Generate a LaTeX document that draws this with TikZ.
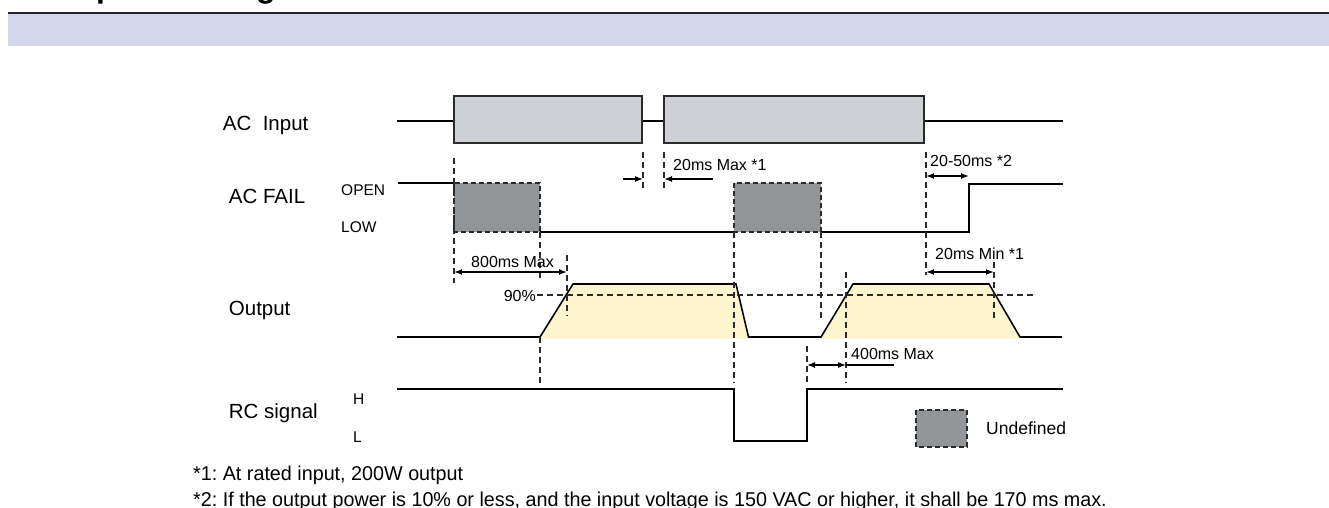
\documentclass[tikz,border=0pt]{standalone}
\usepackage{fontspec}
\setmainfont{Liberation Sans}
\newfontfamily\footfont[FakeStretch=0.987]{Liberation Sans}
\usetikzlibrary{arrows.meta}
\definecolor{band}{HTML}{D4D6EB}
\definecolor{acbox}{HTML}{CDD0D4}
\definecolor{undef}{HTML}{939699}
\definecolor{outfill}{HTML}{FFF6CF}
\definecolor{edge}{HTML}{2B2B2B}
\frenchspacing
\begin{document}
\begin{tikzpicture}[x=1pt,y=-1pt,
  sigline/.style={line width=1.6pt, black, line join=miter},
  guideline/.style={line width=1.2pt, edge, dash pattern=on 6pt off 4pt},
  dimarrow/.style={line width=1.3pt, {Latex[length=8pt,width=6pt]}-{Latex[length=8pt,width=6pt]}},
  onearrow/.style={line width=1.3pt, -{Latex[length=8pt,width=6pt]}},
  lbl/.style={font=\fontsize{20.5}{22}\selectfont, anchor=base west, inner sep=0pt},
  lvl/.style={font=\fontsize{15.5}{17}\selectfont, anchor=base west, inner sep=0pt},
  notetext/.style={font=\fontsize{16}{18}\selectfont, anchor=base west, inner sep=0pt},
  foottext/.style={font=\footfont\fontsize{20}{22}\selectfont, anchor=base west, inner sep=0pt},
  undefbox/.style={fill=undef, draw=edge, line width=1.2pt, dash pattern=on 5pt off 3pt},
  acboxs/.style={fill=acbox, draw=edge, line width=1.5pt}
]
\useasboundingbox (0,0) rectangle (1329,508);
\begin{scope}
\clip (0,0) rectangle (1329,508);
\node[font=\bfseries\fontsize{32}{34}\selectfont, anchor=base west, inner sep=0pt] (head) at (46,-2.8) {Sequence Diagram};
\end{scope}
% header band
\fill[band] (8,14) rectangle (1329,46.5);
\draw[line width=2pt, black!85] (8,13) -- (1329,13);

% row labels
\node[lbl] (lacin) at (222.7,131) {AC~~Input};
\node[lbl] (lacfail) at (228.7,203.3) {AC FAIL};
\node[lbl] (lout) at (228.7,315) {Output};
\node[lbl] (lrc) at (228.7,418) {RC signal};
\node[lvl] (lopen) at (341,195) {OPEN};
\node[lvl] (llow) at (341,232.3) {LOW};
\node[lvl] (lh) at (353,404.3) {H};
\node[lvl] (ll) at (353,442.7) {L};

% output fills
\fill[outfill] (540,338.5) -- (573,284) -- (736,284) -- (748.5,338.5) -- cycle;
\fill[outfill] (821,338.5) -- (853,284) -- (989,284) -- (1020,338.5) -- cycle;

% AC input
\coordinate (a0) at (397,121);
\coordinate (a1) at (454,121);
\coordinate (a2) at (642,121);
\coordinate (a3) at (664,121);
\coordinate (a4) at (924,121);
\coordinate (a5) at (1063,121);
\draw[sigline] (a0) -- (a1);
\draw[sigline] (a2) -- (a3);
\draw[sigline] (a4) -- (a5);
\draw[acboxs] (454,96) rectangle (642,143);
\draw[acboxs] (664,96) rectangle (924,143);

% AC FAIL
\draw[undefbox] (454,183) rectangle (540,232);
\draw[undefbox] (734,183) rectangle (821,232);
\coordinate (f0) at (398,183);
\coordinate (f1) at (454,183);
\coordinate (f2) at (540,232);
\coordinate (f3) at (734,232);
\coordinate (f4) at (821,232);
\coordinate (f5) at (969,232);
\coordinate (f6) at (969,184);
\coordinate (f7) at (1063,184);
\draw[sigline] (f0) -- (f1);
\draw[sigline] (f2) -- (f3);
\draw[sigline] (f4) -- (f5) -- (f6) -- (f7);

% Output
\coordinate (o0) at (397,337);
\coordinate (o1) at (540,337);
\coordinate (o2) at (573,284);
\coordinate (o3) at (736,284);
\coordinate (o4) at (748.5,337);
\coordinate (o5) at (821,337);
\coordinate (o6) at (853,284);
\coordinate (o7) at (989,284);
\coordinate (o8) at (1020,337);
\coordinate (o9) at (1062,337);
\draw[sigline] (o0) -- (o1) -- (o2) -- (o3) -- (o4) -- (o5) -- (o6) -- (o7) -- (o8) -- (o9);

% 90% level
\coordinate (n0) at (537,295);
\coordinate (n1) at (1036,295);
\draw[guideline] (n0) -- (n1);
\node[notetext, anchor=base east] (l90) at (536,301.5) {90\%};

% RC signal
\coordinate (r0) at (397,389);
\coordinate (r1) at (734,389);
\coordinate (r2) at (734,441);
\coordinate (r3) at (807,441);
\coordinate (r4) at (807,389);
\coordinate (r5) at (1063,389);
\draw[sigline] (r0) -- (r1) -- (r2) -- (r3) -- (r4) -- (r5);

% dashed guides
\draw[guideline] (454,158) -- (454,283);
\draw[guideline] (643,152) -- (643,188);
\draw[guideline] (664,152) -- (664,188);
\draw[guideline] (540,232) -- (540,278);
\draw[guideline] (540,337) -- (540,385);
\draw[guideline] (567,255) -- (567,316);
\draw[guideline] (734,232) -- (734,383);
\draw[guideline] (821,232) -- (821,319);
\draw[guideline] (926,152) -- (926,275);
\draw[guideline] (994,262) -- (994,320);
\draw[guideline] (807,346) -- (807,383);
\draw[guideline] (846,272) -- (846,383);

% dimensions
\coordinate (d20a) at (623,179);
\coordinate (d20b) at (643,179);
\coordinate (d20c) at (713,179);
\coordinate (d20d) at (664,179);
\draw[onearrow] (d20a) -- (d20b);
\draw[onearrow] (d20c) -- (d20d);
\node[notetext] (t20max) at (673,170) {20ms Max *1};

\coordinate (d50a) at (926,176);
\coordinate (d50b) at (969,176);
\draw[dimarrow] (d50a) -- (d50b);
\node[notetext] (t2050) at (930,166) {20-50ms *2};

\coordinate (d800a) at (454,272);
\coordinate (d800b) at (567,272);
\draw[dimarrow] (d800a) -- (d800b);
\node[notetext] (t800) at (471,267.3) {800ms Max};

\coordinate (dmina) at (926,272);
\coordinate (dminb) at (994,272);
\draw[dimarrow] (dmina) -- (dminb);
\node[notetext] (t20min) at (935,259) {20ms Min *1};

\coordinate (d400a) at (807,365);
\coordinate (d400b) at (846,365);
\coordinate (d400c) at (894,365);
\draw[dimarrow] (d400a) -- (d400b);
\draw[line width=1.3pt] (d400b) -- (d400c);
\node[notetext] (t400) at (851,359) {400ms Max};

% legend
\draw[undefbox] (916,410) rectangle (967,447);
\node[font=\fontsize{17.5}{19}\selectfont, anchor=base west, inner sep=0pt] (tundef) at (986,434) {Undefined};

% footnotes
\node[foottext] (fn1) at (193,480) {*1: At rated input, 200W output};
\node[foottext] (fn2) at (193,506) {*2: If the output power is 10\% or less, and the input voltage is 150 VAC or higher, it shall be 170 ms max.};
\end{tikzpicture}
\end{document}
